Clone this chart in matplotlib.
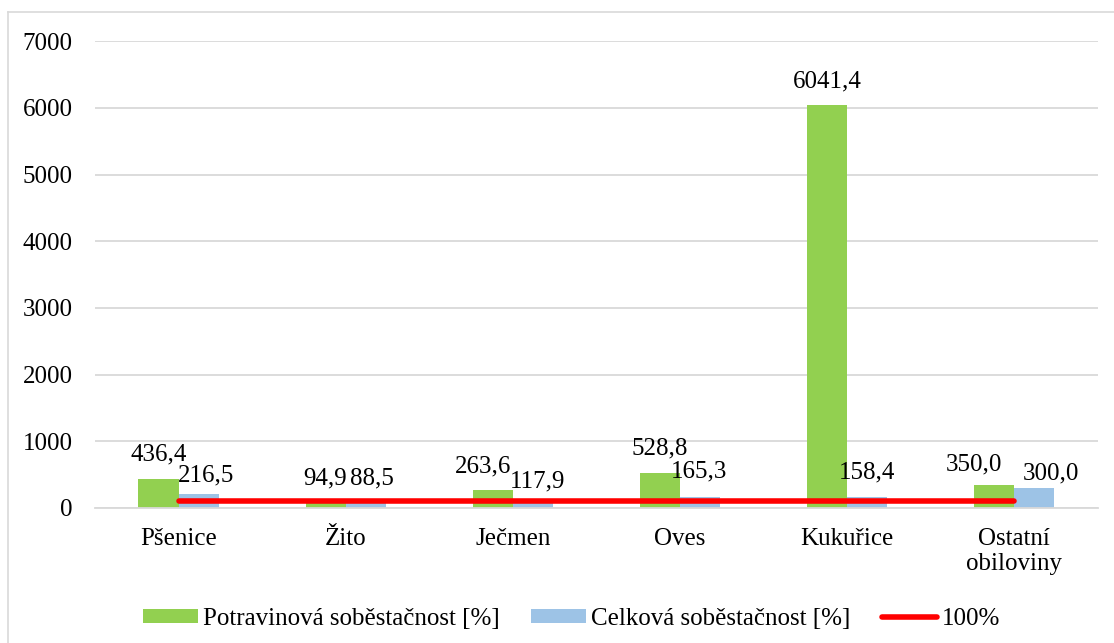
import numpy as np
import matplotlib.pyplot as plt
from matplotlib.lines import Line2D

plt.rcParams['font.family'] = ['Liberation Serif', 'DejaVu Serif']
plt.rcParams['font.size'] = 18

# data
kategorie = ["Pšenice", "Žito", "Ječmen", "Oves", "Kukuřice", "Ostatní\nobiloviny"]
potravinova = [436.4, 94.9, 263.6, 528.8, 6041.4, 350.0]
celkova = [216.5, 88.5, 117.9, 165.3, 158.4, 300.0]
hranice = [100, 100, 100, 100, 100, 100]

zelena = "#92D050"
modra = "#9DC3E6"

# posuny popisku v pixelech (jako v Excelu, aby se neprekryvaly)
posun_zel = [(0, 13), (-1, 12), (-10, 13), (0, 13), (0, 13), (-20, 9)]
posun_mod = [(7, 7), (6, 13), (5, 8), (-1, 14), (0, 14), (16, 4)]

fig = plt.figure(figsize=(11.14, 6.43), dpi=100)
ax = fig.add_axes([0.0853, 0.21, 0.9003, 0.726])

x = np.arange(len(kategorie))
w = 0.24
b1 = ax.bar(x - w / 2, potravinova, w, color=zelena, label="Potravinová soběstačnost [%]", zorder=2)
b2 = ax.bar(x + w / 2, celkova, w, color=modra, label="Celková soběstačnost [%]", zorder=2)
l1, = ax.plot(x, hranice, color="#FF0000", lw=4, solid_capstyle="round", label="100%", zorder=3)

# popisky hodnot
for bars, posuny in ((b1, posun_zel), (b2, posun_mod)):
    for r, p in zip(bars, posuny):
        v = r.get_height()
        ax.annotate(f"{v:.1f}".replace(".", ","), (r.get_x() + r.get_width() / 2, v),
                    xytext=p, textcoords="offset pixels", ha="center", va="bottom", zorder=4)

ax.set_xlim(-0.5, 5.5)
ax.set_ylim(0, 7000)
ax.set_yticks(range(0, 7001, 1000))
ax.set_xticks(x)
ax.set_xticklabels(kategorie, linespacing=1.18)
ax.tick_params(length=0)
ax.tick_params(axis="y", pad=16)
ax.tick_params(axis="x", pad=14.5)
ax.grid(axis="y", color="#D9D9D9", lw=1.3, zorder=0)
for s in ["top", "right", "left"]:
    ax.spines[s].set_visible(False)
ax.spines["bottom"].set_color("#D9D9D9")
ax.spines["bottom"].set_linewidth(1.3)

fig.legend([b1, b2, l1], [b1.get_label(), b2.get_label(), l1.get_label()],
           loc="center", bbox_to_anchor=(0.513, 0.037), ncol=3, frameon=False,
           handlelength=2.2, handleheight=0.5, columnspacing=1.25, handletextpad=0.2)

# ramecek grafu (jen levy a horni okraj je videt)
fig.add_artist(Line2D([8 / 1114, 8 / 1114], [0, 1 - 12 / 643], transform=fig.transFigure,
                      color="#D9D9D9", lw=1.2))
fig.add_artist(Line2D([8 / 1114, 1], [1 - 12 / 643, 1 - 12 / 643], transform=fig.transFigure,
                      color="#D9D9D9", lw=1.2))

fig.savefig("out.png", dpi=100)
